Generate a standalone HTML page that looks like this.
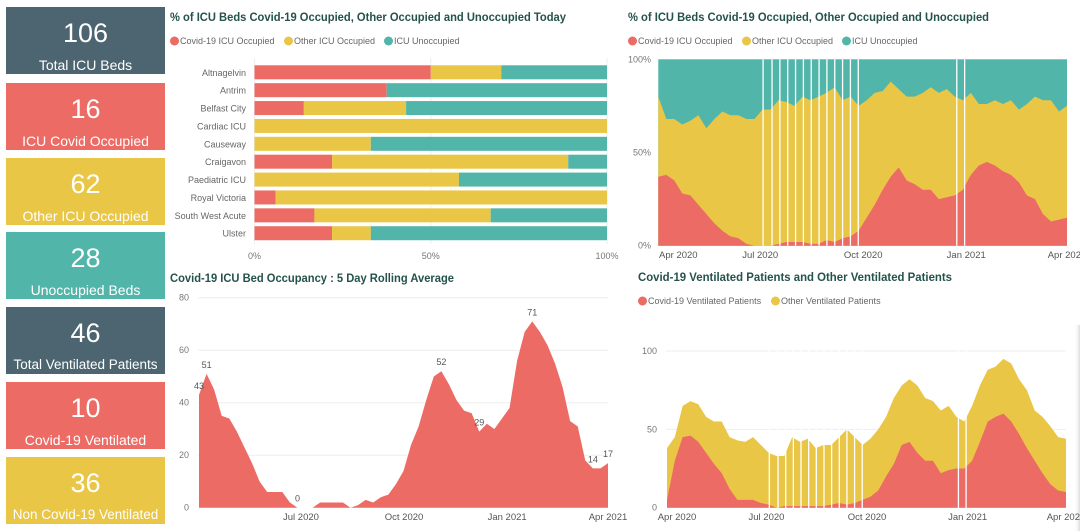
<!DOCTYPE html>
<html><head><meta charset="utf-8">
<style>
html,body{margin:0;padding:0;background:#fff;width:1080px;height:531px;overflow:hidden;font-family:"Liberation Sans",sans-serif}
.card{position:absolute;left:6px;width:159px;height:67px;color:#fff;text-align:center}
.card .num{position:absolute;left:0;right:0;top:11px;font-size:27px;line-height:30px}
.card .lbl{position:absolute;left:0;right:0;top:50px;font-size:14px;line-height:16px;white-space:nowrap}
svg{position:absolute;left:0;top:0}
</style></head>
<body>
<div class="card" style="top:7px;background:#4d6570"><div class="num">106</div><div class="lbl">Total ICU Beds</div></div>
<div class="card" style="top:83px;background:#ec6b65"><div class="num">16</div><div class="lbl">ICU Covid Occupied</div></div>
<div class="card" style="top:158px;background:#e9c645"><div class="num">62</div><div class="lbl">Other ICU Occupied</div></div>
<div class="card" style="top:232px;background:#52b5a9"><div class="num">28</div><div class="lbl">Unoccupied Beds</div></div>
<div class="card" style="top:307px;background:#4d6570"><div class="num">46</div><div class="lbl" style="font-size:13.5px">Total Ventilated Patients</div></div>
<div class="card" style="top:382px;background:#ec6b65"><div class="num">10</div><div class="lbl">Covid-19 Ventilated</div></div>
<div class="card" style="top:457px;background:#e9c645"><div class="num">36</div><div class="lbl" style="font-size:13.5px">Non Covid-19 Ventilated</div></div>

<svg id="s" width="1080" height="531" xmlns="http://www.w3.org/2000/svg">
<defs><linearGradient id="sh" x1="0" x2="1"><stop offset="0" stop-color="#fff" stop-opacity="0"/><stop offset="1" stop-color="#ddd"/></linearGradient></defs>
<rect x="1074" y="325" width="6" height="206" fill="url(#sh)"/>
</svg>

<script>
// ---- Chart 1 data ----
const hospitals = ["Altnagelvin","Antrim","Belfast City","Cardiac ICU","Causeway","Craigavon","Paediatric ICU","Royal Victoria","South West Acute","Ulster"];
const covidPct = [50,37.5,14,0,0,22,0,6,17,22];
const otherPct = [20,0,29,100,33,67,58,94,50,11];
const unoccPct = [30,62.5,57,0,67,11,42,0,33,67];
const pctTicks = ["0%","50%","100%"];

// ---- Chart 2 data (weekly, % of beds) ----
const shareCovid = [37,38,35,28,27,22,17,12,8,5,4,1,0,0,0,1,2,2,2,1,1,3,2,4,5,8,15,22,30,37,42,35,33,30,30,25,26,27,30,38,43,45,43,40,38,34,27,25,17,13,14,15];
const shareOccupied = [80,68,68,65,67,70,63,68,72,70,70,68,68,73,73,78,77,75,80,78,80,82,85,78,80,75,78,82,83,88,84,80,80,82,85,82,84,80,78,82,76,76,78,76,78,73,76,80,78,78,72,75];
const missingDays = [93,101,108,115,122,129,136,143,150,157,164,171,178,266,273];
const dateTicks = ["Apr 2020","Jul 2020","Oct 2020","Jan 2021","Apr 2021"];
const dateTickDays = [0,91,183,275,365];

// ---- Chart 3 data (weekly rolling avg) ----
const rolling = [43,51,45,35,34,29,23,17,10,6,6,6,2,0,0,0,2,2,2,2,0,1,3,2,4,5,9,14,24,31,41,50,52,47,41,37,36,29,32,30,34,38,56,67,71,67,62,55,46,33,31,18,15,15,17];
const rollingLabels = [[0,"43"],[1,"51"],[13,"0"],[32,"52"],[37,"29"],[44,"71"],[52,"14"],[54,"17"]];
const rollTicks = [0,20,40,60,80];

// ---- Chart 4 data (weekly) ----
const ventCovid = [5,30,45,46,42,35,28,22,12,5,5,5,3,2,0,1,1,1,1,1,1,2,3,2,3,5,7,11,20,28,40,42,35,30,30,22,24,25,25,30,42,55,58,60,55,47,38,30,22,15,11,10];
const ventTotal = [38,45,65,68,66,58,55,55,45,43,42,45,40,35,33,33,45,42,44,38,40,40,45,50,45,40,44,50,58,70,78,82,78,70,68,62,65,58,55,65,78,88,90,95,92,82,75,62,58,52,45,44];
const ventTicks = [0,50,100];

const S = document.getElementById('s');
const NS = "http://www.w3.org/2000/svg";
function el(tag, attrs, parent){const e=document.createElementNS(NS,tag);for(const k in attrs)e.setAttribute(k,attrs[k]);(parent||S).appendChild(e);return e;}
function txt(x,y,t,attrs,parent){const e=el('text',Object.assign({x:x,y:y},attrs||{}),parent);e.textContent=t;return e;}
const RED="#ec6b65",YEL="#e9c645",TEAL="#52b5a9",TITLE="#25524c",GRAY="#777";

function legend(x,y,items,g){
  items.forEach(it=>{
    const c=el('circle',{cx:x+4.5,cy:y-3,r:4.5,fill:it[1]},g);
    
    
    const t=txt(x+10,y,it[0],{'font-size':'9px',fill:'#666'},g);
    
    
    x+=10+it[2]+6;
  });
}

// ===== Chart 1: stacked 100% bars =====
(function(){
  const g=el('g',{});
  
  
  const t=txt(170,21,"% of ICU Beds Covid-19 Occupied, Other Occupied and Unoccupied Today",{'font-size':'12px','font-weight':'bold',fill:TITLE,textLength:396,lengthAdjust:'spacingAndGlyphs'},g);
  
  
  legend(170,44,[["Covid-19 ICU Occupied",RED,98],["Other ICU Occupied",YEL,84],["ICU Unoccupied",TEAL,66]],g);
  const x0=254.5,x1=607;
  const xs=v=>x0+(x1-x0)*v/100;
  [0,50,100].forEach(v=>el('line',{x1:xs(v),x2:xs(v),y1:58,y2:244,stroke:'#eee'},g));
  pctTicks.forEach((l,i)=>{const tk=txt(xs(i*50),259,l,{'font-size':'9px',fill:GRAY,'text-anchor':'middle'},g);
    });
  const y0=72.3,step=17.88,h=14;
  hospitals.forEach((name,i)=>{
    const cy=y0+i*step;
    const lb=txt(246,cy+3.5,name,{'font-size':'9px',fill:'#666','text-anchor':'end'},g);
    
    
    let acc=0;
    [[covidPct[i],RED],[otherPct[i],YEL],[unoccPct[i],TEAL]].forEach(s=>{
      if(s[0]>0){
        const r=el('rect',{x:xs(acc),y:cy-h/2,width:xs(acc+s[0])-xs(acc),height:h,fill:s[1]},g);
        
        
      }
      acc+=s[0];
    });
  });
})();

function areaPath(vals,xf,yf,base){
  let d="M"+xf(0)+","+yf(base?base[0]:0);
  vals.forEach((v,i)=>{d+=" L"+xf(i)+","+yf(v);});
  if(base){for(let i=vals.length-1;i>=0;i--)d+=" L"+xf(i)+","+yf(base[i]);}
  else d+=" L"+xf(vals.length-1)+","+yf(0);
  return d+" Z";
}

// ===== Chart 2 =====
(function(){
  const g=el('g',{});
  
  
  const t=txt(628,21,"% of ICU Beds Covid-19 Occupied, Other Occupied and Unoccupied",{'font-size':'12px','font-weight':'bold',fill:TITLE,textLength:361,lengthAdjust:'spacingAndGlyphs'},g);
  
  
  legend(628,44,[["Covid-19 ICU Occupied",RED,98],["Other ICU Occupied",YEL,84],["ICU Unoccupied",TEAL,66]],g);
  const x0=658.3,x1=1067,yT=59.3,yB=245.7;
  const yf=v=>yB-(yB-yT)*v/100;
  const n=shareCovid.length;
  const xf=i=>x0+(x1-x0)*i/(n-1);
  const xd=d=>x0+(x1-x0)*d/365;
  const bg=el('rect',{x:x0,y:yT,width:x1-x0,height:yB-yT,fill:TEAL},g);
  
  
  const a2=el('path',{d:areaPath(shareOccupied,xf,yf),fill:YEL},g);
  
  
  const a1=el('path',{d:areaPath(shareCovid,xf,yf),fill:RED},g);
  
  
  missingDays.forEach(d=>{
    const r=el('rect',{x:xd(d),y:yT,width:1.3,height:yB-yT,fill:'#fff'},g);
    
    
  });
  ["0%","50%","100%"].forEach((l,i)=>{const tk=txt(651,yf(i*50)+3,l,{'font-size':'9px',fill:GRAY,'text-anchor':'end'},g);
    });
  dateTicks.forEach((l,i)=>{let x=xd(dateTickDays[i]);if(i==0)x+=20;const tk=txt(x,258,l,{'font-size':'9.5px',fill:'#555','text-anchor':'middle'},g);
    });
})();

// ===== Chart 3 =====
(function(){
  const g=el('g',{});
  
  
  const t=txt(170,282,"Covid-19 ICU Bed Occupancy : 5 Day Rolling Average",{'font-size':'12px','font-weight':'bold',fill:TITLE,textLength:284,lengthAdjust:'spacingAndGlyphs'},g);
  
  
  const x0=199,x1=608,yB=507.7,k=210/80;
  const yf=v=>yB-v*k;
  const n=rolling.length;
  const xf=i=>x0+(x1-x0)*i/(n-1);
  const xd=d=>x0+(x1-x0)*d/365;
  rollTicks.forEach(v=>{
    if(v>0)el('line',{x1:198,x2:608,y1:yf(v),y2:yf(v),stroke:'#eee'},g);
    const tk=txt(189,yf(v)+3,String(v),{'font-size':'9px',fill:GRAY,'text-anchor':'end'},g);
    
  });
  const a=el('path',{d:areaPath(rolling,xf,yf),fill:RED},g);
  
  
  rollingLabels.forEach(p=>{
    const tk=txt(xf(p[0]),yf(rolling[p[0]])-6,p[1],{'font-size':'9px',fill:'#555','text-anchor':'middle'},g);
    
  });
  dateTicks.forEach((l,i)=>{if(i==0)return;let x=xd(dateTickDays[i]);const tk=txt(x,520,l,{'font-size':'9.5px',fill:'#555','text-anchor':'middle'},g);
    });
})();

// ===== Chart 4 =====
(function(){
  const g=el('g',{});
  
  
  const t=txt(638,281,"Covid-19 Ventilated Patients and Other Ventilated Patients",{'font-size':'12px','font-weight':'bold',fill:TITLE,textLength:314,lengthAdjust:'spacingAndGlyphs'},g);
  
  
  legend(638,304,[["Covid-19 Ventilated Patients",RED,117],["Other Ventilated Patients",YEL,102]],g);
  const x0=667,x1=1066,yB=507.7,k=156.7/100;
  const yf=v=>yB-v*k;
  const n=ventTotal.length;
  const xf=i=>x0+(x1-x0)*i/(n-1);
  const xd=d=>x0+(x1-x0)*d/365;
  ventTicks.forEach(v=>{
    if(v>0)el('line',{x1:666,x2:1066,y1:yf(v),y2:yf(v),stroke:'#eee'},g);
    const tk=txt(657,yf(v)+3,String(v),{'font-size':'9px',fill:GRAY,'text-anchor':'end'},g);
    
  });
  const a2=el('path',{d:areaPath(ventTotal,xf,yf),fill:YEL},g);
  
  
  const a1=el('path',{d:areaPath(ventCovid,xf,yf),fill:RED},g);
  
  
  missingDays.forEach(d=>{
    const r=el('rect',{x:xd(d),y:yf(110),width:1.3,height:yB-yf(110)+1,fill:'#fff'},g);
    
    
  });
  dateTicks.forEach((l,i)=>{let x=xd(dateTickDays[i]);if(i==0)x+=10;const tk=txt(x,520,l,{'font-size':'9.5px',fill:'#555','text-anchor':'middle'},g);
    });
})();
</script>
</body></html>
